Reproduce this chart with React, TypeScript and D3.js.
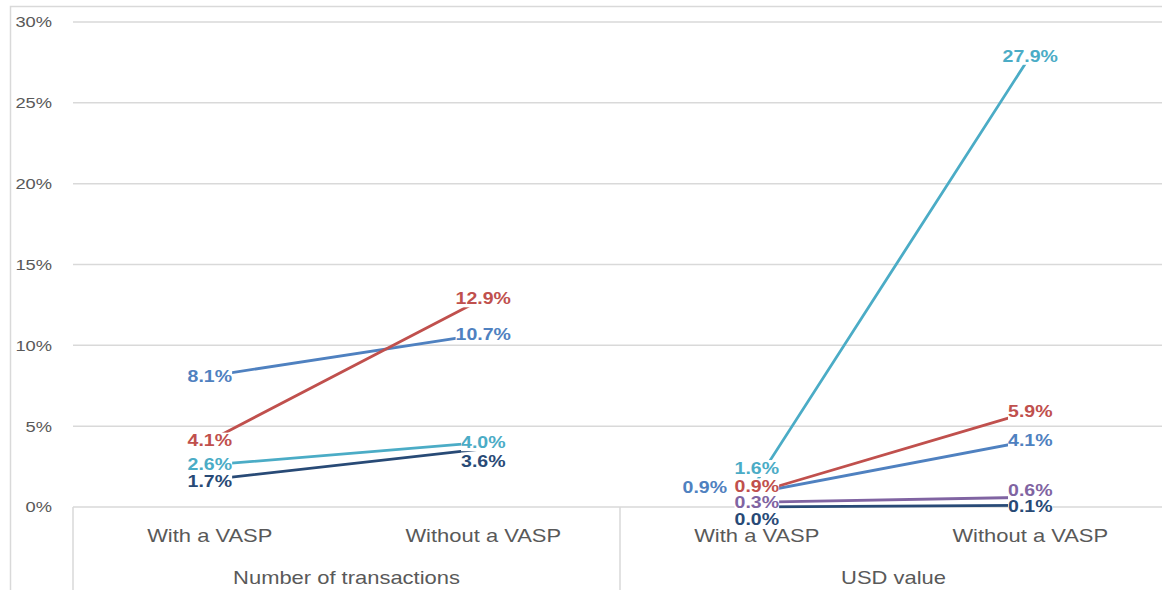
import React, { useEffect, useRef } from 'react';
import * as d3 from 'd3';

const groups = ['Number of transactions', 'USD value'];
const categories = ['With a VASP', 'Without a VASP'];
const yTicks = [0, 5, 10, 15, 20, 25, 30];

// values per point: [group1 cat1, group1 cat2, group2 cat1, group2 cat2]
const blueValues = [8.1, 10.7, 0.9, 4.1];
const redValues = [4.1, 12.9, 0.9, 5.9];
const cyanValues = [2.6, 4.0, 1.6, 27.9];
const navyValues = [1.7, 3.6, 0.0, 0.1];
const purpleValues: (number | null)[] = [null, null, 0.3, 0.6];

const seriesList = [
  { key: 'blue', color: '#4f81c0', values: blueValues },
  { key: 'red', color: '#c0504d', values: redValues },
  { key: 'cyan', color: '#4bacc6', values: cyanValues },
  { key: 'navy', color: '#284a76', values: navyValues },
  { key: 'purple', color: '#8064a2', values: purpleValues },
];

// manual label nudges (dx, dy) like in the original workbook
const labelNudge: Record<string, [number, number]> = {
  'cyan-0': [0, -1],
  'navy-0': [0, 2],
  'blue-2': [-52, -5],
  'red-2': [0, -6],
  'cyan-2': [0, -13],
  'navy-1': [0, 12],
  'navy-2': [0, 12],
  'navy-3': [0, 1],
  'purple-3': [0, -7],
};

const width = 1162;
const height = 590;
const stretch = 1.22;
const gridColor = '#d9d9d9';
const textColor = '#595959';
const font = '"Liberation Sans", Arial, sans-serif';

const App: React.FC = () => {
  const svgRef = useRef<SVGSVGElement>(null);

  useEffect(() => {
    if (!svgRef.current) return;
    const svg = d3.select(svgRef.current);
    svg.selectAll('*').remove();

    const plotLeft = 73;
    const plotRight = 1167;
    const plotTop = 22;
    const plotBottom = 507;

    const x0 = d3.scaleBand<string>().domain(groups).range([plotLeft, plotRight]);
    const x1 = d3.scalePoint<string>().domain(categories).range([0, x0.bandwidth()]).padding(0.5);
    const y = d3.scaleLinear().domain([0, 30]).range([plotBottom, plotTop]);

    const px = (i: number) => (x0(groups[Math.floor(i / 2)]) as number) + (x1(categories[i % 2]) as number);

    // outer chart frame
    svg.append('rect')
      .attr('x', 10.5).attr('y', 6.5)
      .attr('width', 1200).attr('height', 700)
      .attr('fill', 'none').attr('stroke', gridColor).attr('stroke-width', 1.5);

    // gridlines
    svg.selectAll('.grid')
      .data(yTicks)
      .enter()
      .append('line')
      .attr('x1', plotLeft).attr('x2', plotRight)
      .attr('y1', d => y(d)).attr('y2', d => y(d))
      .attr('stroke', gridColor).attr('stroke-width', 1.5);

    // y tick labels
    svg.selectAll('.ytick')
      .data(yTicks)
      .enter()
      .append('text')
      .attr('transform', d => `translate(52,${y(d)}) scale(${stretch},1)`)
      .attr('text-anchor', 'end')
      .attr('dy', '0.36em')
      .style('font-family', font)
      .style('font-size', '15px')
      .style('fill', textColor)
      .text(d => `${d}%`);

    // category axis separators
    [plotLeft, x0(groups[1]) as number, plotRight].forEach(xv => {
      svg.append('line')
        .attr('x1', xv).attr('x2', xv)
        .attr('y1', plotBottom).attr('y2', height)
        .attr('stroke', gridColor).attr('stroke-width', 1.5);
    });

    // category labels
    groups.forEach(g => {
      categories.forEach(c => {
        svg.append('text')
          .attr('transform', `translate(${(x0(g) as number) + (x1(c) as number)},536) scale(${stretch},1)`)
          .attr('text-anchor', 'middle')
          .attr('dy', '0.36em')
          .style('font-family', font)
          .style('font-size', '18px')
          .style('fill', textColor)
          .text(c);
      });
      svg.append('text')
        .attr('transform', `translate(${(x0(g) as number) + x0.bandwidth() / 2},578) scale(${stretch},1)`)
        .attr('text-anchor', 'middle')
        .attr('dy', '0.36em')
        .style('font-family', font)
        .style('font-size', '18px')
        .style('fill', textColor)
        .text(g);
    });

    // lines, one segment per group
    seriesList.forEach(s => {
      groups.forEach((_, gi) => {
        const a = s.values[gi * 2];
        const b = s.values[gi * 2 + 1];
        if (a == null || b == null) return;
        const pts: [number, number][] = [
          [px(gi * 2), y(a)],
          [px(gi * 2 + 1), y(b)],
        ];
        svg.append('path')
          .attr('d', d3.line()(pts) as string)
          .attr('fill', 'none')
          .attr('stroke', s.color)
          .attr('stroke-width', 2.8)
          .attr('stroke-linecap', 'round');
      });
    });

    // data labels with white boxes
    seriesList.forEach(s => {
      s.values.forEach((v, i) => {
        if (v == null) return;
        const [dx, dy] = labelNudge[`${s.key}-${i}`] || [0, 0];
        const g = svg.append('g')
          .attr('transform', `translate(${px(i) + dx},${y(v) + dy}) scale(${stretch},1)`);
        const rect = g.append('rect').attr('fill', '#ffffff');
        const t = g.append('text')
          .attr('text-anchor', 'middle')
          .attr('dy', '0.36em')
          .style('font-family', font)
          .style('font-size', '16px')
          .style('font-weight', 'bold')
          .style('fill', s.color)
          .text(`${v.toFixed(1)}%`);
        const bb = (t.node() as SVGTextElement).getBBox();
        rect.attr('x', bb.x).attr('y', bb.y + 0.5)
          .attr('width', bb.width).attr('height', bb.height - 1);
      });
    });
  }, []);

  return (
    <svg
      ref={svgRef}
      width={width}
      height={height}
      style={{ position: 'absolute', left: 0, top: 0, background: '#ffffff' }}
    />
  );
};

export default App;
